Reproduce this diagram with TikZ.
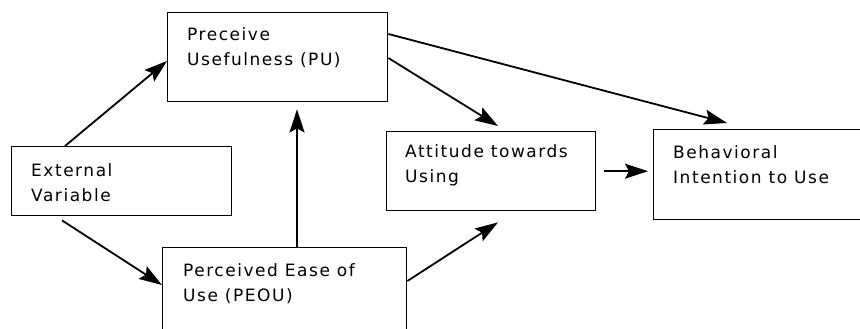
\documentclass[tikz,border=0pt]{standalone}
\usepackage{fontspec}
\setmainfont{DejaVu Sans}[LetterSpace=9]
\usetikzlibrary{arrows.meta}
\begin{document}
\begin{tikzpicture}[x=1pt, y=-1pt,
    box/.style={draw, line width=1.4pt, anchor=north west, inner sep=0pt},
    txt/.style={anchor=north west, inner sep=0pt, align=left, font=\fontsize{17}{25}\selectfont},
    arr/.style={line width=1.8pt, -{Stealth[length=23pt, width=15pt, inset=4pt]}}]
    \useasboundingbox (0,0) rectangle (860,329);
    \clip (0,0) rectangle (860,329);

    % Boxes
    \node[box, minimum width=220pt, minimum height=69pt] (ev) at (11,146) {};
    \node[box, minimum width=220pt, minimum height=89pt] (pu) at (167,12) {};
    \node[box, minimum width=244pt, minimum height=120pt] (peou) at (162,247) {};
    \node[box, minimum width=209pt, minimum height=79pt] (att) at (386,131) {};
    \node[box, minimum width=250pt, minimum height=90pt] (bi) at (653,129) {};

    % Texts
    \node[txt] (ev-t) at ([xshift=20pt, yshift=-17pt]ev.north west) {External\\Variable};
    \node[txt] (pu-t) at ([xshift=20pt, yshift=-15pt]pu.north west) {Preceive\\Usefulness (PU)};
    \node[txt] (peou-t) at ([xshift=21pt, yshift=-16pt]peou.north west) {Perceived Ease of\\Use (PEOU)};
    \node[txt] (att-t) at ([xshift=19pt, yshift=-13pt]att.north west) {Attitude towards\\Using};
    \node[txt] (bi-t) at ([xshift=20pt, yshift=-16pt]bi.north west) {Behavioral\\Intention to Use};

    % Arrows
    \draw[arr] ([xshift=54pt]ev.north west) -- ([yshift=-49pt]pu.north west);
    \draw[arr] ([xshift=51pt, yshift=-4pt]ev.south west) -- ([yshift=-38pt]peou.north west);
    \draw[arr, line width=2.8pt] ([xshift=135pt]peou.north west) -- ([xshift=130pt, yshift=-7pt]pu.south west);
    \draw[arr] ([yshift=-46pt]pu.north east) -- ([xshift=112pt, yshift=5pt]att.north west);
    \draw[arr] ([yshift=-22pt]pu.north east) -- ([xshift=74pt, yshift=6pt]bi.north west);
    \draw[arr, shorten <=8pt, shorten >=5pt] (att.east) -- (att.east -| bi.west);
    \draw[arr] ([yshift=-34pt]peou.north east) -- ([xshift=112pt, yshift=-11pt]att.south west);
\end{tikzpicture}
\end{document}
